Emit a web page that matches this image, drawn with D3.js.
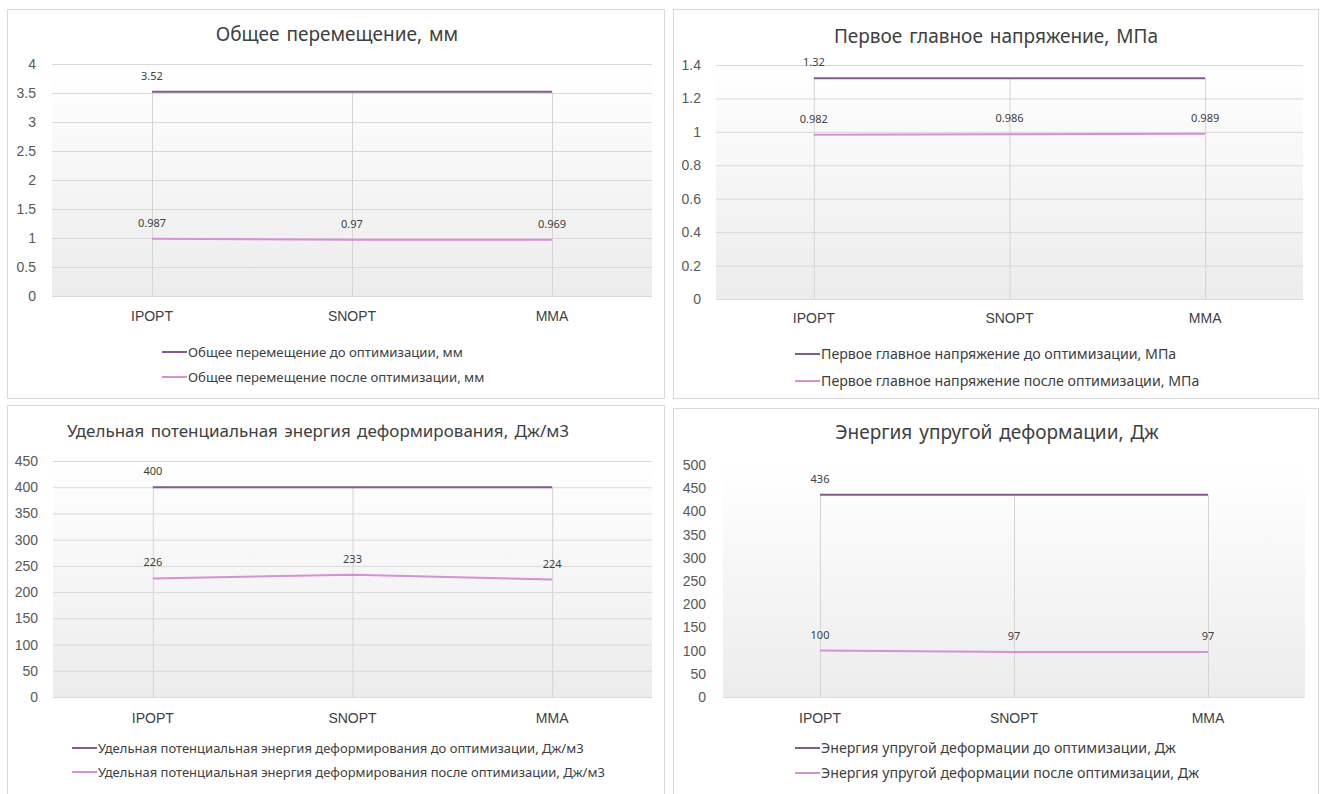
<!DOCTYPE html>
<html>
<head>
<meta charset="utf-8">
<script src="https://cdn.jsdelivr.net/npm/d3@7"></script>
<style>
  html, body { margin: 0; padding: 0; background: #fff; }
  svg { display: block; font-family: "Noto Sans", "Open Sans", sans-serif; }
</style>
</head>
<body>
<svg id="chart" width="1325" height="794"></svg>
<script>
// Optimizer names shared by all four charts
const categories = ["IPOPT", "SNOPT", "MMA"];

// Total displacement, mm
const displacementBefore = [3.52, 3.52, 3.52];
const displacementAfter = [0.987, 0.97, 0.969];
const displacementTicks = [0, 0.5, 1, 1.5, 2, 2.5, 3, 3.5, 4];

// First principal stress, MPa
const stressBefore = [1.32, 1.32, 1.32];
const stressAfter = [0.982, 0.986, 0.989];
const stressTicks = [0, 0.2, 0.4, 0.6, 0.8, 1, 1.2, 1.4];

// Strain energy density, J/m3
const densityBefore = [400, 400, 400];
const densityAfter = [226, 233, 224];
const densityTicks = [0, 50, 100, 150, 200, 250, 300, 350, 400, 450];

// Elastic strain energy, J
const energyBefore = [436, 436, 436];
const energyAfter = [100, 97, 97];
const energyTicks = [0, 50, 100, 150, 200, 250, 300, 350, 400, 450, 500];

// Which points carry a value label
const beforeLabelShown = [true, false, false];
const afterLabelShown = [true, true, true];

const titles = [
  "Общее перемещение,  мм",
  "Первое главное напряжение, МПа",
  "Удельная потенциальная энергия деформирования, Дж/м3",
  "Энергия упругой деформации, Дж"
];
const legendBefore = [
  "Общее перемещение до оптимизации, мм",
  "Первое главное напряжение до оптимизации, МПа",
  "Удельная потенциальная энергия деформирования  до оптимизации, Дж/м3",
  "Энергия упругой деформации до оптимизации, Дж"
];
const legendAfter = [
  "Общее перемещение после оптимизации, мм",
  "Первое главное напряжение после оптимизации, МПа",
  "Удельная потенциальная энергия деформирования  после оптимизации, Дж/м3",
  "Энергия упругой деформации после оптимизации, Дж"
];

const colorBefore = "#835b8c";
const colorAfter = "#d98ed6";

const svg = d3.select("#chart");

// Shared gradient for the plot areas
const defs = svg.append("defs");
const grad = defs.append("linearGradient")
  .attr("id", "plotBg").attr("x1", 0).attr("y1", 0).attr("x2", 0).attr("y2", 1);
grad.append("stop").attr("offset", "0%").attr("stop-color", "#ffffff");
grad.append("stop").attr("offset", "100%").attr("stop-color", "#ececec");

// Panel geometry
const panels = [
  { before: displacementBefore, after: displacementAfter, ticks: displacementTicks,
    box: [7, 9, 664, 398], plot: { left: 52, right: 652, top: 64, bottom: 296 },
    titleX: 337, titleY: 34, titleSize: 19, tickX: 36, catY: 320, legendX: 162, legendY: [352, 377],
    legendSize: 13.2, grid: true },
  { before: stressBefore, after: stressAfter, ticks: stressTicks,
    box: [673, 9, 1318, 398], plot: { left: 716, right: 1303, top: 65, bottom: 299 },
    titleX: 996, titleY: 36, titleSize: 19, tickX: 701, catY: 322, legendX: 795, legendY: [354, 381],
    legendSize: 14.2, grid: true },
  { before: densityBefore, after: densityAfter, ticks: densityTicks,
    box: [7, 405, 664, 800], plot: { left: 53, right: 652, top: 461, bottom: 697 },
    titleX: 318, titleY: 430, titleSize: 17, tickX: 38, catY: 722, legendX: 72, legendY: [748, 772],
    legendSize: 13, grid: true },
  { before: energyBefore, after: energyAfter, ticks: energyTicks,
    box: [673, 408, 1318, 800], plot: { left: 723, right: 1305, top: 465, bottom: 697 },
    titleX: 997, titleY: 432, titleSize: 19, tickX: 706, catY: 722, legendX: 795, legendY: [748, 773],
    legendSize: 14.2, grid: false }
];

panels.forEach((p, i) => {
  const g = svg.append("g");

  // frame
  g.append("rect")
    .attr("x", p.box[0] + 0.5).attr("y", p.box[1] + 0.5)
    .attr("width", p.box[2] - p.box[0]).attr("height", p.box[3] - p.box[1])
    .attr("fill", "#fff").attr("stroke", "#d9d9d9");

  const x = d3.scaleBand().domain(categories).range([p.plot.left, p.plot.right]);
  const cx = c => x(c) + x.bandwidth() / 2;
  const y = d3.scaleLinear().domain([0, d3.max(p.ticks)]).range([p.plot.bottom, p.plot.top]);

  // plot area background
  g.append("rect")
    .attr("x", p.plot.left).attr("y", p.plot.top)
    .attr("width", p.plot.right - p.plot.left).attr("height", p.plot.bottom - p.plot.top)
    .attr("fill", "url(#plotBg)");

  // horizontal gridlines via the y axis
  const yAxis = g.append("g")
    .attr("transform", `translate(${p.plot.left},0)`)
    .call(d3.axisLeft(y).tickValues(p.ticks)
      .tickSize(p.grid ? -(p.plot.right - p.plot.left) : 0)
      .tickPadding(p.plot.left - p.tickX)
      .tickFormat(d3.format("~g")));
  yAxis.select(".domain").remove();
  yAxis.selectAll(".tick line").attr("stroke", "#d9d9d9");
  yAxis.selectAll(".tick text")
    .attr("fill", "#595959").style("font-size", "14px");

  // baseline
  g.append("line")
    .attr("x1", p.plot.left).attr("x2", p.plot.right)
    .attr("y1", y(0) + 0.5).attr("y2", y(0) + 0.5)
    .attr("stroke", "#d9d9d9");

  // category axis labels
  const xAxis = g.append("g")
    .attr("transform", `translate(0,${p.catY - 9})`)
    .call(d3.axisBottom(x).tickSize(0).tickPadding(0));
  xAxis.select(".domain").remove();
  xAxis.selectAll(".tick text")
    .attr("fill", "#404040").style("font-size", "14px");

  // drop lines from the higher series to the axis
  g.append("g").selectAll("line")
    .data(categories)
    .join("line")
    .attr("x1", c => cx(c) + 0.5).attr("x2", c => cx(c) + 0.5)
    .attr("y1", (c, k) => y(Math.max(p.before[k], p.after[k])))
    .attr("y2", y(0))
    .attr("stroke", "#d4d4d4");

  const line = d3.line().x((d, k) => cx(categories[k])).y(d => y(d));

  [[p.after, colorAfter, afterLabelShown], [p.before, colorBefore, beforeLabelShown]]
    .forEach(([vals, col, shown]) => {
      g.append("path")
        .datum(vals)
        .attr("d", line)
        .attr("fill", "none")
        .attr("stroke", col)
        .attr("stroke-width", 2);

      g.append("g").selectAll("text")
        .data(vals.map((v, k) => ({ v, k })).filter(d => shown[d.k]))
        .join("text")
        .attr("x", d => cx(categories[d.k]))
        .attr("y", d => y(d.v) - 12)
        .attr("text-anchor", "middle")
        .attr("fill", "#404040")
        .style("font-size", "11px")
        .text(d => d3.format("~g")(d.v));
    });

  // title
  g.append("text")
    .attr("x", p.titleX).attr("y", p.titleY + 7)
    .attr("text-anchor", "middle")
    .attr("fill", "#404040")
    .style("font-size", p.titleSize + "px")
    .style("word-spacing", "2px")
    .text(titles[i]);

  // legend
  const leg = g.append("g");
  [[legendBefore[i], colorBefore], [legendAfter[i], colorAfter]].forEach(([name, col], r) => {
    const ly = p.legendY[r];
    leg.append("line")
      .attr("x1", p.legendX).attr("x2", p.legendX + 25)
      .attr("y1", ly).attr("y2", ly)
      .attr("stroke", col).attr("stroke-width", 2);
    leg.append("text")
      .attr("x", p.legendX + 26).attr("y", ly + 4.5)
      .attr("fill", "#404040")
      .style("font-size", p.legendSize + "px")
      .text(name);
  });
});
</script>
</body>
</html>
